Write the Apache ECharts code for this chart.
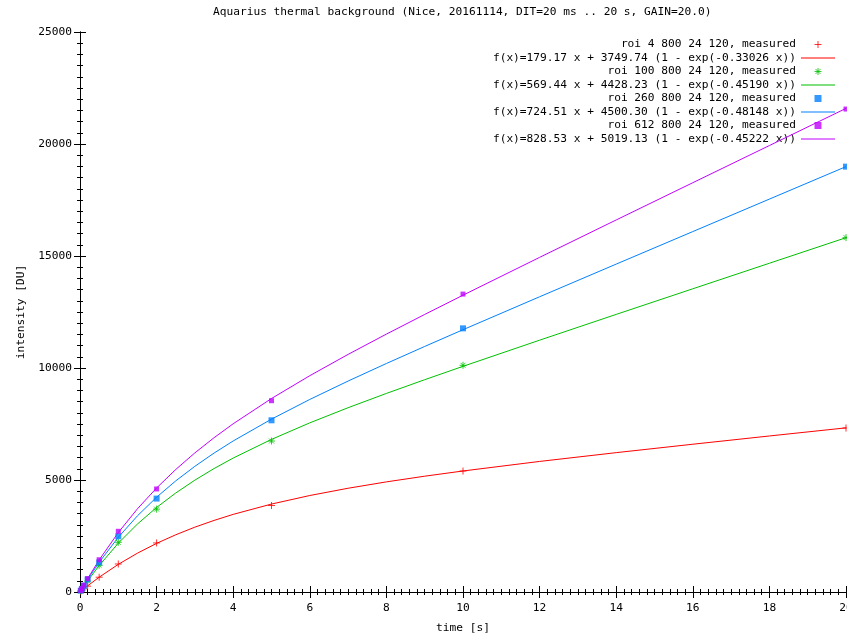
<!DOCTYPE html>
<html>
<head>
    <meta charset="utf-8">
    <title>Aquarius thermal background</title>
    <script src="https://cdn.jsdelivr.net/npm/echarts@6/dist/echarts.min.js"></script>
    <style>
        body { margin: 0; background: #fff; }
    </style>
</head>
<body>
<div id="chart" style="width: 847px; height: 634px;"></div>

<script>
    // measured points (time in s, intensity in DU)
    var timeS = [0.02, 0.05, 0.1, 0.2, 0.5, 1, 2, 5, 10, 20];
    var roi4 = [30, 70, 140, 260, 660, 1250, 2190, 3860, 5400, 7320];
    var roi100 = [50, 125, 250, 490, 1190, 2220, 3700, 6740, 10120, 15820];
    var roi260 = [60, 140, 285, 560, 1320, 2490, 4170, 7665, 11770, 18990];
    var roi612 = [65, 155, 305, 600, 1440, 2710, 4600, 8540, 13300, 21560];

    // fitted curves
    var fitTime = [0, 0.2, 0.5, 1, 1.5, 2, 2.5, 3, 3.5, 4, 5, 6, 7, 8, 9, 10, 12, 14, 16, 18, 20];
    var fit4 = [0, 275, 660, 1234, 1734, 2171, 2555, 2895, 3196, 3466, 3926, 4308, 4632, 4916, 5170, 5403, 5829, 6221, 6597, 6965, 7328];
    var fit100 = [0, 496, 1180, 2180, 3034, 3774, 4421, 4995, 5511, 5980, 6813, 7551, 8227, 8865, 9477, 10074, 11242, 12393, 13536, 14677, 15817];
    var fit260 = [0, 558, 1325, 2444, 3401, 4232, 4961, 5612, 6202, 6743, 7717, 8597, 9417, 10201, 10962, 11709, 13180, 14638, 16090, 17541, 18990];
    var fit612 = [0, 600, 1430, 2655, 3715, 4644, 5470, 6212, 6888, 7511, 8638, 9657, 10607, 11513, 12390, 13250, 14939, 16609, 18272, 19931, 21590];

    var names = [
        'roi 4 800 24 120, measured',
        'f(x)=179.17 x + 3749.74 (1 - exp(-0.33026 x))',
        'roi 100 800 24 120, measured',
        'f(x)=569.44 x + 4428.23 (1 - exp(-0.45190 x))',
        'roi 260 800 24 120, measured',
        'f(x)=724.51 x + 4500.30 (1 - exp(-0.48148 x))',
        'roi 612 800 24 120, measured',
        'f(x)=828.53 x + 5019.13 (1 - exp(-0.45222 x))'
    ];
    var colors = ['#ff0000', '#00c000', '#0080ff', '#c000ff'];

    var plusPath = 'path://M0,5L10,5M5,0L5,10';
    var starPath = 'path://M0,5L10,5M5,0L5,10M1.5,1.5L8.5,8.5M1.5,8.5L8.5,1.5';
    var squarePath = 'path://M0,0H10V10H0Z';
    var linePath = 'path://M0,0H34V1H0Z';
    var symbols = [plusPath, starPath, squarePath, squarePath];
    var symbolSizes = [7, 7, 6, 5];
    var legendSizes = [7, 7, 6, 5];

    var font = 'DejaVu Sans Mono';
    var fs = 11.2;

    function pairs(xs, ys) {
        return xs.map(function (x, i) { return [x, ys[i]]; });
    }

    var measured = [roi4, roi100, roi260, roi612];
    var fits = [fit4, fit100, fit260, fit612];
    var series = [];
    var legendData = [];
    for (var i = 0; i < 4; i++) {
        var stroke = i < 2;
        var markStyle = stroke
            ? { color: 'transparent', borderColor: colors[i], borderWidth: 1 }
            : { color: colors[i], borderWidth: 0 };
        series.push({
            name: names[i * 2],
            type: 'scatter',
            symbol: symbols[i],
            symbolSize: symbolSizes[i],
            itemStyle: markStyle,
            data: pairs(timeS, measured[i]),
            z: 3 + i
        });
        series.push({
            name: names[i * 2 + 1],
            type: 'line',
            symbol: 'none',
            lineStyle: { color: colors[i], width: 1 },
            itemStyle: { color: colors[i] },
            data: pairs(fitTime, fits[i]),
            z: 2 + i
        });
        legendData.push({ name: names[i * 2], icon: symbols[i], itemStyle: markStyle });
        legendData.push({
            name: names[i * 2 + 1], icon: linePath,
            itemStyle: { color: colors[i], borderWidth: 0 }
        });
    }

    var chart = echarts.init(document.getElementById('chart'));
    var option = {
        animation: false,
        color: colors,
        title: {
            text: 'Aquarius thermal background (Nice, 20161114, DIT=20 ms .. 20 s, GAIN=20.0)',
            left: 208,
            top: 2,
            textStyle: { fontFamily: font, fontSize: fs, fontWeight: 'normal', color: '#000' }
        },
        legend: {
            orient: 'vertical',
            align: 'right',
            right: 7,
            top: 33,
            itemGap: 0.5,
            itemWidth: 34,
            itemHeight: 7,
            data: legendData,
            textStyle: { fontFamily: font, fontSize: fs, color: '#000', lineHeight: 13 }
        },
        grid: { left: 80, top: 32, right: 1, bottom: 42, outerBoundsMode: 'none' },
        xAxis: [{
            type: 'value',
            min: 0, max: 20, interval: 2,
            name: 'time [s]',
            nameLocation: 'middle',
            nameGap: 31,
            nameTextStyle: { fontFamily: font, fontSize: fs, color: '#000' },
            axisLine: { onZero: false, lineStyle: { color: '#000', width: 1 } },
            axisTick: { inside: true, length: 6, lineStyle: { color: '#000' } },
            minorTick: { show: true, splitNumber: 10, length: 3, lineStyle: { color: '#000' } },
            axisLabel: { fontFamily: font, fontSize: fs, color: '#000', margin: 11 },
            splitLine: { show: false }
        }, {
            type: 'value',
            position: 'top',
            min: 0, max: 20, interval: 2,
            axisLine: { lineStyle: { color: '#000', width: 1 } },
            axisTick: { inside: true, length: 6, lineStyle: { color: '#000' } },
            minorTick: { show: true, splitNumber: 10, length: 3, lineStyle: { color: '#000' } },
            axisLabel: { show: false },
            splitLine: { show: false }
        }],
        yAxis: [{
            type: 'value',
            min: 0, max: 25000, interval: 5000,
            name: 'intensity [DU]',
            nameLocation: 'middle',
            nameGap: 53,
            nameTextStyle: { fontFamily: font, fontSize: fs, color: '#000' },
            axisLine: { show: true, onZero: false, lineStyle: { color: '#000', width: 1 } },
            axisTick: { show: true, inside: true, length: 6, lineStyle: { color: '#000' } },
            minorTick: { show: true, splitNumber: 10, length: 3, lineStyle: { color: '#000' } },
            axisLabel: {
                fontFamily: font, fontSize: fs, color: '#000', margin: 8,
                formatter: function (v) { return String(v); }
            },
            splitLine: { show: false }
        }, {
            type: 'value',
            position: 'right',
            min: 0, max: 25000, interval: 5000,
            axisLine: { show: true, lineStyle: { color: '#000', width: 1 } },
            axisTick: { show: true, inside: true, length: 6, lineStyle: { color: '#000' } },
            minorTick: { show: true, splitNumber: 10, length: 3, lineStyle: { color: '#000' } },
            axisLabel: { show: false },
            splitLine: { show: false }
        }],
        series: series
    };
    chart.setOption(option);
</script>
</body>
</html>
